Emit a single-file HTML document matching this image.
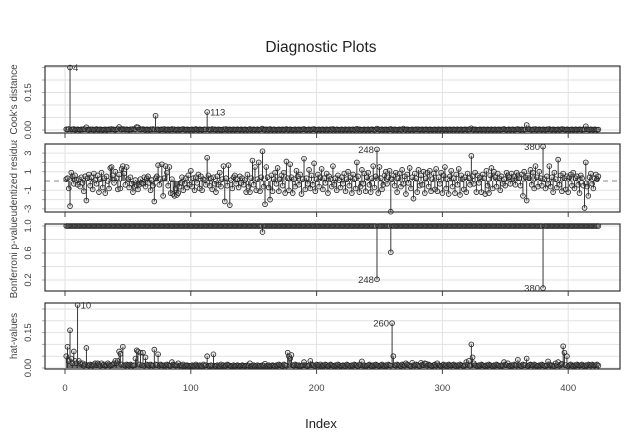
<!DOCTYPE html>
<html><head><meta charset="utf-8"><style>
html,body{margin:0;padding:0;background:#fff;}
svg{display:block;font-family:"Liberation Sans",Arial,sans-serif;}
</style></head><body>
<svg id="chart" width="638" height="439" viewBox="0 0 638 439" xmlns="http://www.w3.org/2000/svg">
<text x="321" y="52" font-size="15.5" text-anchor="middle" fill="#222">Diagnostic Plots</text>
<text x="321" y="428" font-size="13" text-anchor="middle" fill="#222">Index</text>
<defs>
<clipPath id="c1"><rect x="0" y="60" width="40" height="80"/></clipPath>
<clipPath id="c2"><rect x="0" y="140" width="40" height="76"/></clipPath>
<clipPath id="c3"><rect x="0" y="216" width="40" height="82"/></clipPath>
<clipPath id="c4"><rect x="0" y="298" width="40" height="80"/></clipPath>
</defs>
<g id="layer"></g>
</svg>
<script>
const xTicks = [0,100,200,300,400];
const cooks = [.003,.002,.004,.25,.002,.003,.004,.001,.002,.003,.002,.001,.003,.002,.004,.003,.011,.002,.001,.003,
.002,.003,.001,.002,.004,.002,.001,.003,.002,.001,.002,.003,.001,.002,.003,.002,.004,.003,.002,.001,
.003,.004,.012,.003,.002,.004,.003,.002,.003,.002,.001,.003,.002,.004,.003,.002,.012,.011,.003,.002,
.003,.004,.002,.001,.003,.002,.001,.003,.002,.004,.002,.057,.002,.003,.001,.002,.003,.002,.004,.001,
.002,.003,.001,.002,.004,.002,.003,.001,.002,.003,.001,.002,.003,.004,.002,.001,.003,.002,.001,.002,
.003,.001,.002,.004,.002,.001,.003,.002,.001,.002,.003,.002,.072,.003,.001,.002,.004,.002,.003,.001,
.002,.003,.001,.002,.001,.003,.002,.004,.001,.002,.003,.001,.002,.003,.001,.002,.003,.002,.001,.003,
.002,.001,.003,.002,.001,.002,.004,.001,.002,.003,.001,.002,.003,.001,.002,.003,.006,.002,.001,.003,
.002,.001,.004,.002,.001,.003,.002,.001,.002,.003,.001,.002,.003,.001,.002,.004,.002,.001,.003,.002,
.001,.002,.003,.001,.002,.003,.001,.002,.003,.004,.002,.001,.002,.003,.001,.002,.003,.004,.002,.001,
.002,.003,.001,.002,.003,.001,.002,.003,.001,.002,.003,.001,.004,.002,.001,.003,.002,.001,.002,.003,
.001,.002,.003,.001,.002,.003,.001,.002,.003,.001,.002,.005,.001,.003,.002,.001,.002,.003,.001,.002,
.003,.001,.002,.003,.002,.001,.002,.006,.003,.001,.002,.003,.001,.002,.003,.001,.002,.003,.004,.002,
.001,.003,.002,.001,.002,.003,.001,.002,.006,.002,.001,.003,.002,.001,.002,.003,.001,.002,.003,.002,
.003,.001,.002,.003,.001,.002,.003,.002,.001,.003,.002,.001,.002,.003,.001,.002,.003,.001,.002,.003,
.001,.002,.003,.001,.002,.003,.001,.002,.003,.001,.002,.003,.001,.002,.003,.001,.002,.003,.002,.001,
.003,.002,.007,.002,.001,.003,.002,.001,.002,.003,.001,.002,.003,.001,.002,.003,.001,.002,.003,.001,
.002,.003,.001,.002,.003,.001,.002,.003,.004,.002,.001,.002,.003,.001,.002,.003,.001,.002,.003,.004,
.002,.001,.003,.002,.001,.003,.02,.003,.004,.002,.001,.003,.002,.004,.001,.002,.003,.002,.001,.003,
.002,.001,.003,.002,.004,.002,.001,.003,.002,.001,.002,.003,.001,.002,.004,.003,.002,.001,.003,.002,
.001,.002,.003,.001,.002,.003,.001,.002,.003,.002,.001,.003,.002,.015,.003,.002,.001,.003,.002,.001,
.003,.002,.001,.002];
const rstud = [0.2,0.3,-0.8,-2.7,0.9,0.5,-0.3,0.6,0.1,-0.4,0.2,-0.6,0.4,-0.2,-1.1,0.5,-2.1,0.3,0.7,-0.5,
0.4,-0.9,0.8,0.1,-0.3,0.6,-1.2,0.2,0.9,-0.7,0.3,-1.3,0.5,0.0,-0.8,1.4,1.5,0.6,-0.2,1.0,
0.3,-0.9,0.7,-0.8,1.3,1.6,0.8,-0.4,1.5,0.2,-0.7,0.4,-0.3,-1.2,-0.6,0.1,-0.5,-0.9,-0.4,0.2,
-0.2,-0.3,0.4,-0.6,0.3,0.5,-0.2,-1.0,0.1,-0.5,-2.2,0.3,0.5,1.7,-0.4,0.2,1.8,-1.6,0.3,1.6,
0.9,-0.5,1.5,-1.3,0.2,-1.4,-1.6,-0.8,-1.5,-1.3,-0.6,-0.2,0.4,-1.0,-0.3,0.3,-0.7,0.6,-0.4,1.1,
-0.6,0.3,-1.0,0.4,-0.2,0.7,-0.8,0.5,-1.0,0.2,0.1,-0.4,2.5,0.6,-0.5,0.3,-0.9,0.4,-0.3,-1.2,
0.5,-0.4,0.9,-0.6,0.2,1.6,-2.2,0.3,-0.5,1.7,-2.6,0.1,-0.8,0.4,0.6,-0.3,0.2,-0.7,0.5,-0.2,
0.3,-0.4,0.1,-1.2,0.7,-0.6,-1.2,0.3,2.2,-0.4,1.5,-1.0,0.2,2.0,-1.1,0.4,3.2,-0.6,-2.5,1.5,
0.4,-0.7,-2.0,0.6,-1.1,0.2,0.9,-0.3,1.4,-1.1,0.2,0.6,-0.5,0.9,-1.3,2.1,0.3,-1.0,1.8,0.4,
-1.3,0.2,-0.6,1.1,0.5,-0.4,0.7,-1.4,0.2,2.4,-0.9,0.3,-0.3,1.2,-0.8,0.6,-0.4,1.9,-1.1,0.2,
0.7,-0.6,0.4,1.3,-0.9,0.3,-0.2,0.8,-1.3,0.5,0.2,-0.6,1.6,-0.4,0.3,-1.0,0.6,0.1,-0.7,0.4,
-0.3,0.8,-1.1,0.2,1.0,-0.5,0.4,-1.3,0.7,0.2,-0.8,2.0,0.5,-1.2,-0.6,1.2,-0.3,0.8,-1.1,0.4,
0.9,-0.4,-1.2,0.3,1.6,-0.7,0.5,3.4,-1.3,1.5,0.3,-0.9,-0.4,0.6,1.0,-0.3,0.4,1.1,-3.3,0.2,
0.6,-0.5,0.9,-1.2,0.3,0.8,-0.6,1.2,-0.3,0.5,-1.4,0.7,-0.2,1.4,-0.8,0.4,-1.9,0.8,0.3,-1.2,
1.2,-0.5,0.6,-0.4,1.0,-1.3,0.3,0.9,-0.6,1.1,-1.1,0.2,0.8,-0.9,1.3,-1.1,0.4,-0.3,0.9,-1.3,
0.6,1.5,-0.8,0.2,-1.4,0.5,1.1,-0.6,0.3,-1.3,0.7,-0.4,1.3,-1.5,0.6,0.2,-0.9,0.4,-1.2,0.8,
0.3,-0.4,2.7,0.5,-0.3,0.9,-1.2,0.6,-0.2,0.4,-1.2,0.7,0.3,-1.4,1.1,-0.5,-1.3,0.6,1.4,-0.8,
1.0,0.4,-0.6,0.8,0.3,-1.0,0.5,-0.3,0.2,-0.5,0.9,0.6,0.4,-0.3,0.8,0.2,0.5,-0.4,0.9,0.6,
0.3,-0.5,0.7,-1.6,1.0,0.4,-2.1,0.6,0.3,1.2,-0.4,0.9,-0.8,1.6,0.4,-0.6,1.0,0.3,-0.5,3.7,
0.2,-0.8,0.5,-0.3,1.6,-0.6,0.4,-1.2,0.9,0.2,-0.7,2.3,-0.4,0.6,-1.1,0.8,0.3,-0.9,0.5,-1.2,
0.4,0.7,-0.5,0.9,-0.8,0.3,0.5,-0.4,-1.3,0.6,0.3,-0.5,-2.9,2.0,-0.6,-1.6,0.4,0.8,-0.3,-0.8,
0.3,0.7,0.2,0.5];
const bonfIdx = [157,248,259,380];
const bonfVal = [0.91,0.21,0.61,0.08];
const hats = [.05,.09,.03,.16,.04,.02,.07,.03,.02,.267,.03,.02,.015,.02,.01,.015,.085,.012,.01,.015,
.012,.01,.015,.02,.012,.02,.015,.01,.02,.012,.015,.01,.012,.02,.015,.01,.012,.015,.02,.03,
.02,.03,.07,.06,.015,.09,.012,.01,.015,.012,.01,.015,.012,.01,.012,.04,.075,.07,.015,.065,
.012,.065,.01,.045,.015,.012,.01,.015,.012,.01,.078,.015,.012,.058,.01,.015,.012,.01,.012,.01,
.015,.012,.01,.01,.025,.015,.012,.01,.012,.02,.01,.012,.01,.015,.008,.01,.012,.01,.008,.01,
.012,.008,.01,.015,.01,.008,.012,.01,.008,.015,.01,.012,.05,.01,.008,.012,.01,.058,.01,.008,
.012,.01,.008,.015,.01,.012,.008,.01,.015,.012,.01,.008,.01,.012,.008,.01,.012,.01,.008,.01,
.012,.01,.008,.01,.012,.01,.02,.008,.01,.012,.008,.01,.012,.008,.01,.008,.012,.01,.018,.008,
.01,.012,.008,.01,.012,.01,.008,.012,.01,.015,.012,.01,.008,.015,.012,.01,.065,.05,.04,.055,
.012,.01,.015,.012,.01,.012,.008,.01,.012,.025,.012,.01,.008,.012,.03,.015,.012,.01,.008,.015,
.012,.01,.015,.008,.012,.01,.015,.012,.008,.01,.015,.012,.01,.008,.012,.01,.015,.012,.008,.01,
.012,.01,.008,.015,.012,.01,.008,.012,.01,.015,.012,.01,.008,.015,.012,.028,.01,.012,.008,.01,
.012,.015,.01,.008,.012,.01,.015,.012,.01,.008,.012,.015,.01,.008,.012,.01,.015,.012,.01,.19,
.05,.012,.01,.015,.012,.01,.008,.015,.012,.01,.02,.015,.012,.01,.008,.022,.012,.01,.015,.012,
.01,.008,.022,.015,.012,.02,.018,.01,.015,.012,.01,.008,.012,.015,.01,.02,.012,.01,.008,.012,
.015,.01,.012,.008,.015,.012,.01,.012,.015,.01,.008,.012,.01,.015,.012,.01,.008,.012,.025,.015,
.03,.01,.1,.045,.02,.012,.01,.008,.012,.01,.015,.012,.01,.008,.012,.01,.015,.012,.01,.008,
.012,.01,.015,.012,.01,.008,.012,.01,.025,.015,.012,.02,.01,.008,.012,.01,.015,.012,.01,.035,
.012,.01,.008,.015,.012,.012,.04,.008,.012,.015,.012,.01,.015,.012,.008,.01,.012,.01,.015,.012,
.01,.008,.012,.028,.015,.01,.012,.01,.008,.02,.012,.025,.01,.015,.018,.092,.065,.012,.05,.008,
.012,.015,.01,.008,.012,.01,.015,.012,.01,.012,.015,.01,.008,.012,.01,.015,.012,.01,.015,.012,
.01,.012,.015,.01];

const NS = "http://www.w3.org/2000/svg";
const layer = document.getElementById('layer');
const L = 45, R = 620;
function X(i){ return 65 + i * 1.258; }
function mk(tag, attrs, parent){
  const e = document.createElementNS(NS, tag);
  for (const k in attrs) e.setAttribute(k, attrs[k]);
  (parent || layer).appendChild(e);
  return e;
}
const panels = [
  {name:'cooks', top:66, bot:133, y0:130, scale:250, base:0, grid:[0,.05,.1,.15,.2,.25], ticks:[0,.15], tl:['0.00','0.15'], title:"Cook's distance", clip:'c1', vals:cooks},
  {name:'rstudent', top:144, bot:212, y0:181, scale:9.3, base:0, grid:[-3,-2,-1,1,2,3], ticks:[3,1,-1,-3], tl:['3','1','-1','-3'], title:"Studentized residuals", clip:'c2', vals:rstud},
  {name:'bonferroni', top:224, bot:291, y0:293.5, scale:67.5, base:1, grid:[.2,.4,.6,.8,1], ticks:[1,.6,.2], tl:['1.0','0.6','0.2'], title:"Bonferroni p-value", clip:'c3', vals:null},
  {name:'hat', top:303, bot:369, y0:368, scale:236, base:0, grid:[0,.05,.1,.15,.2,.25], ticks:[0,.15], tl:['0.00','0.15'], title:"hat-values", clip:'c4', vals:hats}
];
const labels = {cooks:[[4,'4','r'],[113,'113','r']], rstudent:[[248,'248','l'],[380,'380','l']], bonferroni:[[248,'248','l'],[380,'380','l']], hat:[[10,'10','r'],[260,'260','l']]};

panels.forEach(function(p){
  const Y = v => p.y0 - v * p.scale;
  const g = mk('g', {});
  
  
  xTicks.forEach(function(t){
    const gl = mk('line', {x1:X(t), x2:X(t), y1:p.top, y2:p.bot, stroke:'#e2e2e2', 'stroke-width':1}, g);
    
    
    const tk = mk('line', {x1:X(t), x2:X(t), y1:p.bot, y2:p.bot+5, stroke:'#444', 'stroke-width':1}, g);
    
    
  });
  p.grid.forEach(function(v){
    const y = Y(v);
    if (y < p.top || y > p.bot) return;
    const gl = mk('line', {x1:L, x2:R, y1:y, y2:y, stroke:'#e2e2e2', 'stroke-width':1}, g);
    
    
    const tk = mk('line', {x1:L-3, x2:L, y1:y, y2:y, stroke:'#aaa', 'stroke-width':1}, g);
    
    
  });
  p.ticks.forEach(function(v, k){
    const y = Y(v);
    const t = mk('text', {x:0, y:0, transform:'translate(31,'+y+') rotate(-90)', 'font-size':9.5, 'text-anchor':'middle', fill:'#444'}, g);
    t.textContent = p.tl[k];
    
    
  });
  const cg = mk('g', {'clip-path':'url(#'+p.clip+')'}, g);
  const tt = mk('text', {x:0, y:0, transform:'translate(17,'+((p.top+p.bot)/2)+') rotate(-90)', 'font-size':10, 'text-anchor':'middle', fill:'#444'}, cg);
  tt.textContent = p.title;
  
  
  if (p.name === 'rstudent'){
    const dl = mk('line', {x1:L, x2:R, y1:Y(0), y2:Y(0), stroke:'#888', 'stroke-width':1, 'stroke-dasharray':'5,4'}, g);
    
    
  }
  const n = hats.length;
  for (let i = 1; i <= n; i++){
    let v;
    if (p.vals) v = p.vals[i-1];
    else { const k = bonfIdx.indexOf(i); v = k >= 0 ? bonfVal[k] : 1; }
    if (v === undefined) continue;
    const x = X(i), y = Y(v);
    const sp = mk('line', {x1:x, x2:x, y1:Y(p.base), y2:y, stroke:'#222', 'stroke-width':0.9}, g);
    
    
    const c = mk('circle', {cx:x, cy:y, r:2.4, fill:'rgba(150,150,150,0.25)', stroke:'#222', 'stroke-width':0.8}, g);
    
    
  }
  (labels[p.name] || []).forEach(function(lb){
    const i = lb[0];
    let v;
    if (p.vals) v = p.vals[i-1];
    else { const k = bonfIdx.indexOf(i); v = k >= 0 ? bonfVal[k] : 1; }
    const x = X(i), y = Y(v);
    const t = mk('text', {x: lb[2]==='r' ? x+3 : x-3, y: y+3.5, 'font-size':9.5, 'text-anchor': lb[2]==='r' ? 'start' : 'end', fill:'#333'}, g);
    t.textContent = lb[1];
    
    
  });
  const box = mk('rect', {x:L, y:p.top, width:R-L, height:p.bot-p.top, fill:'none', stroke:'#333', 'stroke-width':1.2}, g);
  
  
});
xTicks.forEach(function(t){
  const tx = mk('text', {x:X(t), y:391, 'font-size':9.5, 'text-anchor':'middle', fill:'#444'});
  tx.textContent = String(t);
  
  
});
</script>
</body></html>
